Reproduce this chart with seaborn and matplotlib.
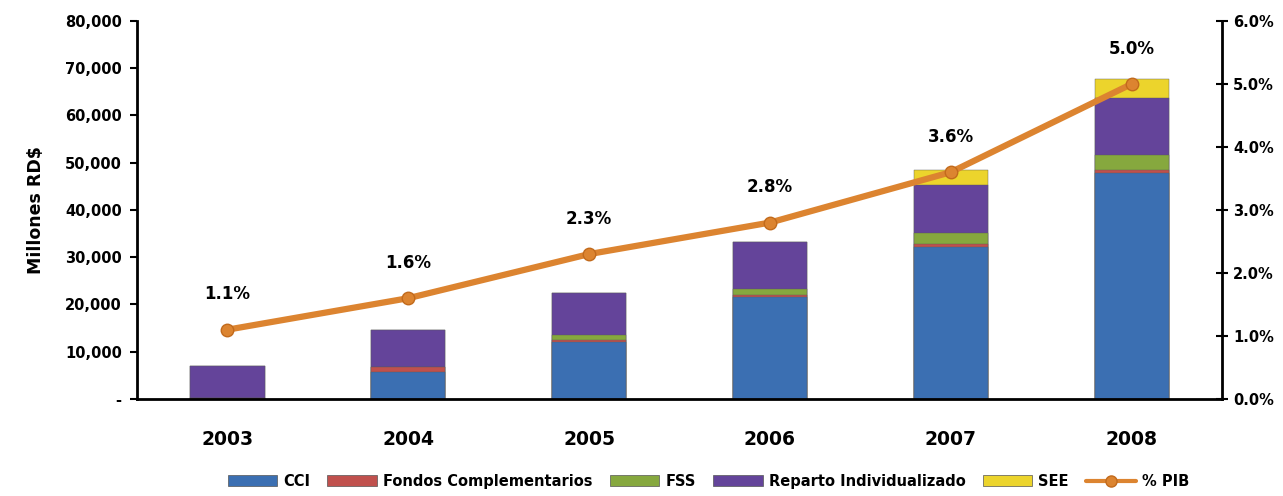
import numpy as np
import pandas as pd
import matplotlib
matplotlib.use("Agg")
import matplotlib.pyplot as plt
import seaborn as sns
from matplotlib.patches import Patch
from matplotlib.lines import Line2D
from matplotlib.ticker import FuncFormatter, FixedLocator

# data (millones RD$)
years = ["2003", "2004", "2005", "2006", "2007", "2008"]
cci = [0, 5700, 12000, 21600, 32200, 47800]
fondos = [300, 1000, 500, 500, 600, 700]
fss = [0, 0, 1000, 1200, 2300, 3100]
reparto = [6700, 7900, 8900, 9900, 10200, 12100]
see = [0, 0, 0, 0, 3200, 4000]
pib = [1.1, 1.6, 2.3, 2.8, 3.6, 5.0]

series = ["CCI", "Fondos Complementarios", "FSS", "Reparto Individualizado", "SEE"]
colors = ["#3b6fb2", "#c0504d", "#86a83e", "#64449a", "#ecd42c"]
pib_color = "#dc8430"

sns.set_style("white")
plt.rcParams["font.family"] = ["DejaVu Sans"]
plt.rcParams.update({"text.color": "black", "axes.labelcolor": "black",
                     "xtick.color": "black", "ytick.color": "black"})

df = pd.DataFrame({"year": years, "CCI": cci, "Fondos Complementarios": fondos,
                   "FSS": fss, "Reparto Individualizado": reparto, "SEE": see})
cum = df[series].cumsum(axis=1)

fig = plt.figure(figsize=(12.83, 4.96), dpi=100)
ax = fig.add_axes([0.1068, 0.1956, 0.8457, 0.7621])

# stacked bars: draw cumulative totals from the top layer down
for name, col in reversed(list(zip(series, colors))):
    sns.barplot(x=df["year"], y=cum[name], color=col, width=0.41, ax=ax,
                edgecolor="#5a5a5a", linewidth=0.3, saturation=1)

ax.set_xlim(-0.5, 5.5)
ax.set_ylim(0, 80000)
ax.set_ylabel("Millones RD$", fontsize=12.5, fontweight="bold", labelpad=14)
ax.set_xlabel("")
ax.yaxis.set_major_locator(FixedLocator(np.arange(0, 80001, 10000)))
ax.yaxis.set_major_formatter(FuncFormatter(lambda v, p: "-" if v == 0 else f"{int(v):,}"))
ax.tick_params(axis="y", direction="out", length=5, width=1.5, labelsize=10.5, pad=6)
for t in ax.get_yticklabels():
    t.set_fontweight("bold")
ax.tick_params(axis="x", which="major", length=0, labelsize=13.5, pad=22)
for t in ax.get_xticklabels():
    t.set_fontweight("bold")
ax.set_xticks(np.arange(-0.5, 5.6, 1), minor=True)
ax.tick_params(axis="x", which="minor", direction="out", length=7, width=1.5)
for s in ["top", "right"]:
    ax.spines[s].set_visible(False)
for s in ["left", "bottom"]:
    ax.spines[s].set_linewidth(2)
    ax.spines[s].set_color("black")

ax2 = ax.twinx()
sns.pointplot(x=years, y=pib, color=pib_color, ax=ax2, markers="o",
              linewidth=4.5, markersize=9, markeredgecolor="#c26a1c",
              markeredgewidth=1)
ax2.set_ylim(0, 6)
ax2.set_xlim(-0.5, 5.5)
ax2.yaxis.set_major_locator(FixedLocator(np.arange(0, 6.01, 1)))
ax2.yaxis.set_major_formatter(FuncFormatter(lambda v, p: f"{v:.1f}%"))
ax2.tick_params(axis="y", direction="inout", length=8, width=1.5, labelsize=10.5, pad=4)
for t in ax2.get_yticklabels():
    t.set_fontweight("bold")
for s in ["top", "left", "bottom"]:
    ax2.spines[s].set_visible(False)
ax2.spines["right"].set_linewidth(2)
ax2.spines["right"].set_color("black")

for i, v in enumerate(pib):
    ax2.annotate(f"{v:.1f}%", (i, v), xytext=(0, 19), textcoords="offset points",
                 ha="center", va="bottom", fontsize=12, fontweight="bold")

handles = [Patch(facecolor=c, edgecolor="#555555", linewidth=0.5) for c in colors]
handles.append(Line2D([0], [0], color=pib_color, linewidth=3, marker="o",
                      markersize=8, markeredgecolor="#c26a1c"))
labels = series + ["% PIB"]
fig.legend(handles, labels, loc="center", bbox_to_anchor=(0.552, 0.03), ncol=6,
           frameon=False, prop={"weight": "bold", "size": 10.5},
           handlelength=3.4, handleheight=0.7, handletextpad=0.4, columnspacing=1.2)

fig.savefig("out.png", dpi=100)
